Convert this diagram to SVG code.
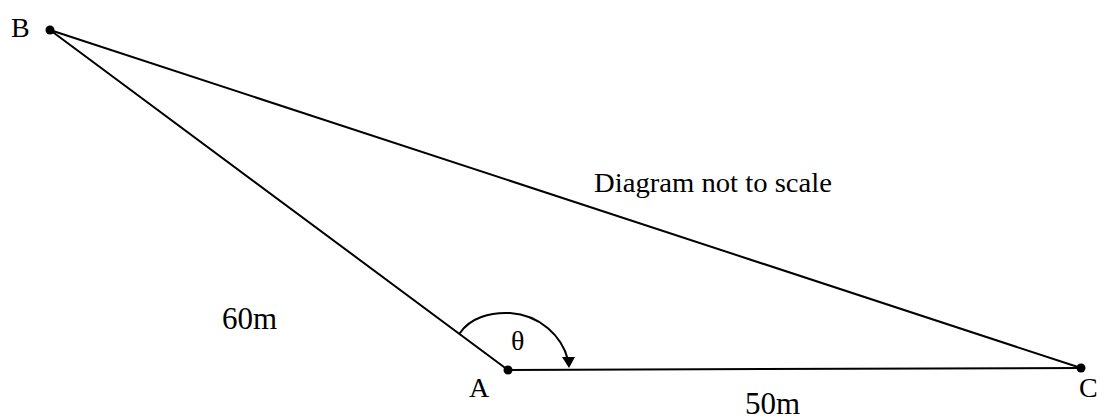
<svg xmlns="http://www.w3.org/2000/svg" width="1109" height="419" viewBox="0 0 1109 419">
<style>
.ln{stroke:#000;stroke-width:2;fill:none;stroke-linecap:round}
.dot{fill:#000}
text{font-family:"Liberation Serif","Times New Roman",serif;font-size:28px;fill:#000}
.lbl{font-size:31px}
</style>
<rect width="1109" height="419" fill="#fff"/>
<g id="connectors">
<line class="ln" x1="50" y1="30" x2="508" y2="370"/>
<line class="ln" x1="50" y1="30" x2="1081" y2="368"/>
<line class="ln" x1="508" y1="370" x2="1081" y2="368"/>
<path class="ln" d="M460,333 C470,318 490,312 510,313 C540,315 562,336 568,360"/>
<polygon class="dot" points="562,357 575,357 569,368"/>
</g>
<g id="nodeB"><circle class="dot" cx="50" cy="30" r="4.5"/><text x="11" y="37">B</text></g>
<g id="nodeA"><circle class="dot" cx="508" cy="370" r="4.5"/><text x="469" y="397">A</text></g>
<g id="nodeC"><circle class="dot" cx="1081" cy="368" r="4.5"/><text x="1079" y="397">C</text></g>
<g id="labels">
<text class="lbl" x="222" y="329">60m</text>
<text x="511" y="350">θ</text>
<text class="lbl" x="745" y="414">50m</text>
<text x="594" y="192" textLength="238" lengthAdjust="spacingAndGlyphs">Diagram not to scale</text>
</g>
</svg>
